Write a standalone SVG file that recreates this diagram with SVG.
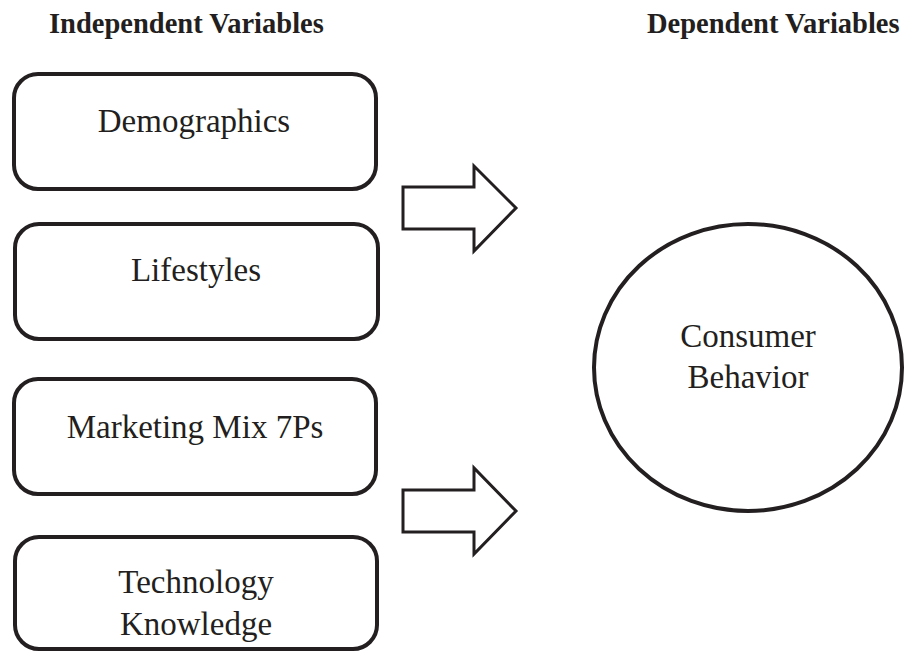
<svg xmlns="http://www.w3.org/2000/svg" width="905" height="652" viewBox="0 0 905 652">
<style>
.box{fill:#fff;stroke:#231f20;stroke-width:4}
.arr{fill:#fff;stroke:#231f20;stroke-width:3;stroke-linejoin:miter}
.t{font-family:"Liberation Serif","Times New Roman",serif;font-size:33px;fill:#231f20;text-anchor:middle}
.h{font-family:"Liberation Serif","Times New Roman",serif;font-size:28.5px;font-weight:bold;fill:#231f20}
</style>
<rect width="905" height="652" fill="#fff"/>
<text class="h" x="49" y="33">Independent Variables</text>
<text class="h" x="647" y="33">Dependent Variables</text>
<g id="demographics">
<rect class="box" x="14" y="74" width="362" height="115" rx="24"/>
<text class="t" x="194" y="132">Demographics</text>
</g>
<g id="lifestyles">
<rect class="box" x="15" y="224" width="363" height="115" rx="24"/>
<text class="t" x="196" y="281">Lifestyles</text>
</g>
<g id="marketing">
<rect class="box" x="14" y="379" width="362" height="115" rx="24"/>
<text class="t" x="195" y="438">Marketing Mix 7Ps</text>
</g>
<g id="technology">
<rect class="box" x="15" y="537" width="362" height="112" rx="24"/>
<text class="t" x="196" y="593">Technology</text>
<text class="t" x="196" y="635">Knowledge</text>
</g>
<g id="consumer">
<ellipse class="box" cx="748" cy="367.5" rx="154" ry="143.5"/>
<text class="t" x="748" y="347">Consumer</text>
<text class="t" x="748" y="388">Behavior</text>
</g>
<g id="connectors">
<polygon class="arr" points="403,187 474,187 474,166 516,208 474,251 474,229 403,229"/>
<polygon class="arr" points="403,490 474,490 474,468 516,511 474,554 474,532 403,532"/>
</g>
</svg>
